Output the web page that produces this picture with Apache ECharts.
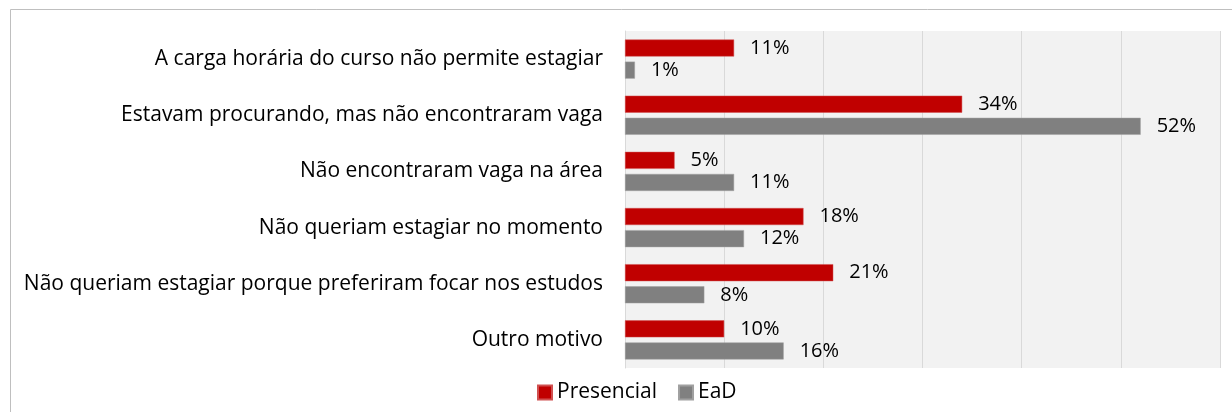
<!DOCTYPE html>
<html>
<head>
    <meta charset="utf-8">
    <title>Motivos para não estagiar</title>
    <script src="https://cdn.jsdelivr.net/npm/echarts@6/dist/echarts.min.js"></script>
    <style>
        html, body { margin: 0; padding: 0; background: #fff; }
        #chart1 { width: 1232px; height: 412px; }
    </style>
</head>
<body>
<div id="chart1"></div>
<script type="text/javascript">
    // categorias (de cima para baixo)
    var motivos = [
        'A carga horária do curso não permite estagiar',
        'Estavam procurando, mas não encontraram vaga',
        'Não encontraram vaga na área',
        'Não queriam estagiar no momento',
        'Não queriam estagiar porque preferiram focar nos estudos',
        'Outro motivo'
    ];
    var presencial = [11, 34, 5, 18, 21, 10];
    var ead = [1, 52, 11, 12, 8, 16];
    var eixoX = [0, 10, 20, 30, 40, 50, 60];

    var fonte = 'Open Sans';
    var myChart1 = echarts.init(document.getElementById('chart1'));

    var rotulo = {
        show: true,
        position: 'right',
        distance: 16,
        formatter: '{c}%',
        color: '#000',
        fontFamily: fonte,
        fontSize: 20
    };

    myChart1.setOption({
        animation: false,
        backgroundColor: '#fff',
        graphic: [{
            // moldura externa do gráfico
            type: 'rect',
            shape: { x: 10.5, y: 9.5, width: 1240, height: 420 },
            style: { fill: 'none', stroke: '#bfbfbf', lineWidth: 1 },
            silent: true
        }],
        legend: {
            data: ['Presencial', 'EaD'],
            left: 537,
            top: 382,
            padding: 0,
            itemWidth: 14,
            itemHeight: 14,
            itemGap: 21,
            icon: 'rect',
            textStyle: { fontFamily: fonte, fontSize: 21, color: '#000' }
        },
        grid: {
            left: 625,
            right: 12,
            top: 31,
            bottom: 44,
            show: true,
            backgroundColor: '#f2f2f2',
            borderWidth: 0
        },
        xAxis: {
            type: 'value',
            min: eixoX[0],
            max: eixoX[eixoX.length - 1],
            interval: 10,
            axisLabel: { show: false },
            axisLine: { show: false },
            axisTick: { show: false },
            splitLine: { lineStyle: { color: '#d9d9d9', width: 1 } }
        },
        yAxis: {
            type: 'category',
            data: motivos,
            inverse: true,
            axisTick: { show: false },
            axisLine: { show: true, lineStyle: { color: '#d9d9d9' } },
            axisLabel: {
                color: '#000',
                fontFamily: fonte,
                fontSize: 21,
                margin: 22
            }
        },
        series: [
            {
                name: 'Presencial',
                type: 'bar',
                data: presencial,
                barWidth: 17,
                barGap: '30%',
                itemStyle: { color: '#c00000', borderColor: '#d05050', borderWidth: 0.5 },
                label: rotulo
            },
            {
                name: 'EaD',
                type: 'bar',
                data: ead,
                barWidth: 17,
                itemStyle: { color: '#808080', borderColor: '#a0a0a0', borderWidth: 0.5 },
                label: rotulo
            }
        ]
    });
</script>
</body>
</html>
